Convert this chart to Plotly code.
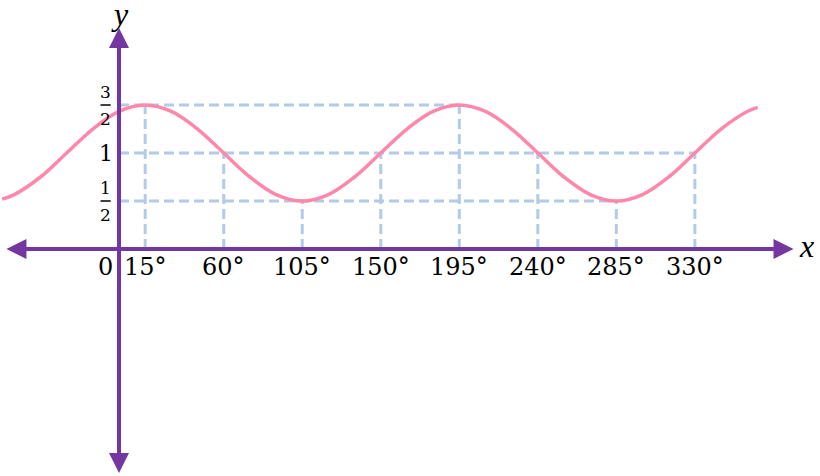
import plotly.graph_objects as go

# ---- data ----
curve_x = [-67, -60, -45, -30, -15, 0, 15, 30, 45, 60, 75, 90, 105, 120, 135, 150, 165,
           180, 195, 210, 225, 240, 255, 270, 285, 300, 315, 330, 345, 360, 366]
curve_y = [0.52, 0.567, 0.75, 1.0, 1.25, 1.433, 1.5, 1.433, 1.25, 1.0, 0.75, 0.567, 0.5,
           0.567, 0.75, 1.0, 1.25, 1.433, 1.5, 1.433, 1.25, 1.0, 0.75, 0.567, 0.5, 0.567,
           0.75, 1.0, 1.25, 1.433, 1.476]

tick_x = [15, 60, 105, 150, 195, 240, 285, 330]
tick_y = [1.5, 1.0, 0.5, 1.0, 1.5, 1.0, 0.5, 1.0]
tick_labels = ["15°", "60°", "105°", "150°", "195°", "240°", "285°", "330°"]

# horizontal guide levels and how far they reach
level_y = [1.5, 1.0, 0.5]
level_end_x = [195, 330, 285]

# ---- styling ----
PURPLE = "#7437A2"
PINK = "#FF88AA"
GUIDE = "#B3CAE8"
SERIF = "DejaVu Serif"

X_RANGE = [-68.2, 401.7]
Y_RANGE = [-2.365, 2.594]

fig = go.Figure()

# vertical dashed guides
for tx, ty in zip(tick_x, tick_y):
    fig.add_trace(go.Scatter(x=[tx, tx], y=[0, ty], mode="lines",
                             line=dict(color=GUIDE, width=3, dash="10px,5px"),
                             hoverinfo="skip", showlegend=False))
# horizontal dashed guides
for ly, lx in zip(level_y, level_end_x):
    fig.add_trace(go.Scatter(x=[0, lx], y=[ly, ly], mode="lines",
                             line=dict(color=GUIDE, width=3, dash="10px,5px"),
                             hoverinfo="skip", showlegend=False))

# the curve
fig.add_trace(go.Scatter(x=curve_x, y=curve_y, mode="lines",
                         line=dict(color=PINK, width=3.5, shape="spline", smoothing=1.0),
                         hoverinfo="skip", showlegend=False))

shapes = []
# axes
shapes.append(dict(type="line", x0=-60, x1=380, y0=0, y1=0, xref="x", yref="y",
                   line=dict(color=PURPLE, width=4), layer="above"))
shapes.append(dict(type="line", x0=0, x1=0, y0=-2.2, y1=2.2, xref="x", yref="y",
                   line=dict(color=PURPLE, width=4), layer="above"))
# fraction bars
for fy in [1.5, 0.5]:
    shapes.append(dict(type="line", x0=-10.6, x1=-4.8, y0=fy, y1=fy, xref="x", yref="y",
                       line=dict(color="black", width=1.5), layer="above"))

annotations = []
# arrow heads
arrow_common = dict(text="", showarrow=True, arrowhead=2, arrowsize=1.33, arrowwidth=3,
                    arrowcolor=PURPLE, xref="x", yref="y", axref="pixel", ayref="pixel")
annotations.append(dict(x=386.5, y=0, ax=-30, ay=0, **arrow_common))
annotations.append(dict(x=-64.5, y=0, ax=30, ay=0, **arrow_common))
annotations.append(dict(x=0, y=2.302, ax=0, ay=30, **arrow_common))
annotations.append(dict(x=0, y=-2.333, ax=0, ay=-30, **arrow_common))

# tick labels
for tx, tl in zip(tick_x, tick_labels):
    annotations.append(dict(x=tx, y=-0.19, text=tl, showarrow=False, xanchor="center",
                            yanchor="middle", font=dict(family=SERIF, size=24, color="black")))
annotations.append(dict(x=-7.5, y=-0.19, text="0", showarrow=False, xanchor="center",
                        yanchor="middle", font=dict(family=SERIF, size=24, color="black")))

# y labels
annotations.append(dict(x=-7.6, y=1.0, text="1", showarrow=False, xanchor="center",
                        yanchor="middle", font=dict(family=SERIF, size=22, color="black")))
annotations.append(dict(x=-7.6, y=1.64, text="3", showarrow=False, xanchor="center",
                        yanchor="middle", font=dict(family=SERIF, size=17, color="black")))
annotations.append(dict(x=-7.6, y=1.35, text="2", showarrow=False, xanchor="center",
                        yanchor="middle", font=dict(family=SERIF, size=17, color="black")))
annotations.append(dict(x=-7.6, y=0.64, text="1", showarrow=False, xanchor="center",
                        yanchor="middle", font=dict(family=SERIF, size=17, color="black")))
annotations.append(dict(x=-7.6, y=0.35, text="2", showarrow=False, xanchor="center",
                        yanchor="middle", font=dict(family=SERIF, size=17, color="black")))

# axis names
annotations.append(dict(x=0.5, y=2.45, text="<i>y</i>", showarrow=False, xanchor="center",
                        yanchor="middle", font=dict(family="Liberation Serif", size=32, color="black")))
annotations.append(dict(x=394, y=0.03, text="<i>x</i>", showarrow=False, xanchor="center",
                        yanchor="middle", font=dict(family="Liberation Serif", size=32, color="black")))

fig.update_layout(
    width=820, height=476,
    margin=dict(l=0, r=0, t=0, b=0),
    paper_bgcolor="white", plot_bgcolor="white",
    xaxis=dict(range=X_RANGE, visible=False, fixedrange=True),
    yaxis=dict(range=Y_RANGE, visible=False, fixedrange=True),
    shapes=shapes, annotations=annotations,
    showlegend=False,
)

fig.write_html("out.html", config={"displayModeBar": False},
               post_script="document.body.style.margin='0';document.body.style.overflow='hidden';")
